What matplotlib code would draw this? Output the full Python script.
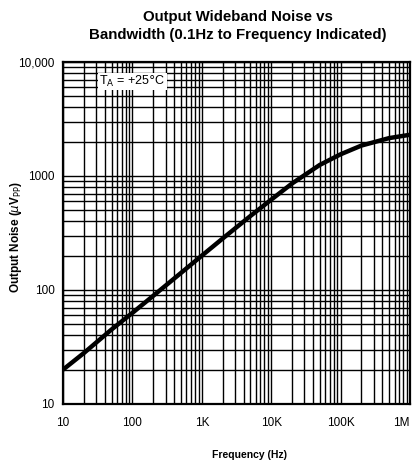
import matplotlib.pyplot as plt
from matplotlib.ticker import FixedLocator, LogLocator, NullFormatter

freq = [10, 20, 50, 100, 200, 500, 1e3, 2e3, 5e3, 1e4, 2e4, 5e4, 1e5, 2e5, 5e5, 1e6]
noise = [20, 28, 45, 63, 89, 141, 200, 283, 445, 620, 860, 1250, 1550, 1850, 2150, 2300]

xticks = [10, 100, 1e3, 1e4, 1e5, 1e6]
xlabels = ['10', '100', '1K', '10K', '100K', '1M']
yticks = [10, 100, 1000, 10000]
ylabels = ['10', '100', '1000', '10,000']

plt.rcParams['font.family'] = ['Liberation Sans', 'DejaVu Sans']
narrow = ['Liberation Sans Narrow', 'Liberation Sans', 'DejaVu Sans']

fig = plt.figure(figsize=(4.13, 4.63), dpi=100)
ax = fig.add_axes([63/413, 1-404/463, (410-63)/413, (404-62)/463])

ax.plot(freq, noise, color='black', lw=3.2, solid_capstyle='butt', zorder=5)
ax.set_xscale('log')
ax.set_yscale('log')
ax.set_xlim(10, 1e6)
ax.set_ylim(10, 10000)

ax.xaxis.set_major_locator(FixedLocator(xticks))
ax.set_xticklabels(xlabels)
ax.yaxis.set_major_locator(FixedLocator(yticks))
ax.set_yticklabels(ylabels)
for a in (ax.xaxis, ax.yaxis):
    a.set_minor_locator(LogLocator(base=10, subs=range(2, 10)))
    a.set_minor_formatter(NullFormatter())
ax.tick_params(which='both', length=0, labelsize=8.5)
ax.tick_params(axis='x', pad=9)
ax.tick_params(axis='y', pad=6)
ax.get_xticklabels()[-1].set_ha('right')
ax.get_xticklabels()[-1].set_x(1e6)

ax.grid(True, which='both', color='black', lw=1.0)
for s in ax.spines.values():
    s.set_linewidth(1.6)

ax.text(0.105, 0.965, r'T$_\mathrm{A}$ = +25$\degree$C', transform=ax.transAxes,
        fontsize=9, va='top', ha='left', zorder=6,
        bbox=dict(facecolor='white', edgecolor='none', pad=1))

fig.text(238/413, 1-17/463, 'Output Wideband Noise vs', ha='center', va='center',
         fontsize=10.8, fontweight='bold')
fig.text(238/413, 1-35/463, 'Bandwidth (0.1Hz to Frequency Indicated)', ha='center',
         va='center', fontsize=10.8, fontweight='bold')

fig.text(16/413, 1-237/463, r'Output Noise ($\mu$V$_\mathrm{PP}$)', rotation=90,
         ha='center', va='center', fontsize=8.5, fontweight='bold', family=narrow)
fig.text(250/413, 1-455/463, 'Frequency (Hz)', ha='center', va='center',
         fontsize=7.5, fontweight='bold', family=narrow)

fig.savefig('out.png', dpi=100)
